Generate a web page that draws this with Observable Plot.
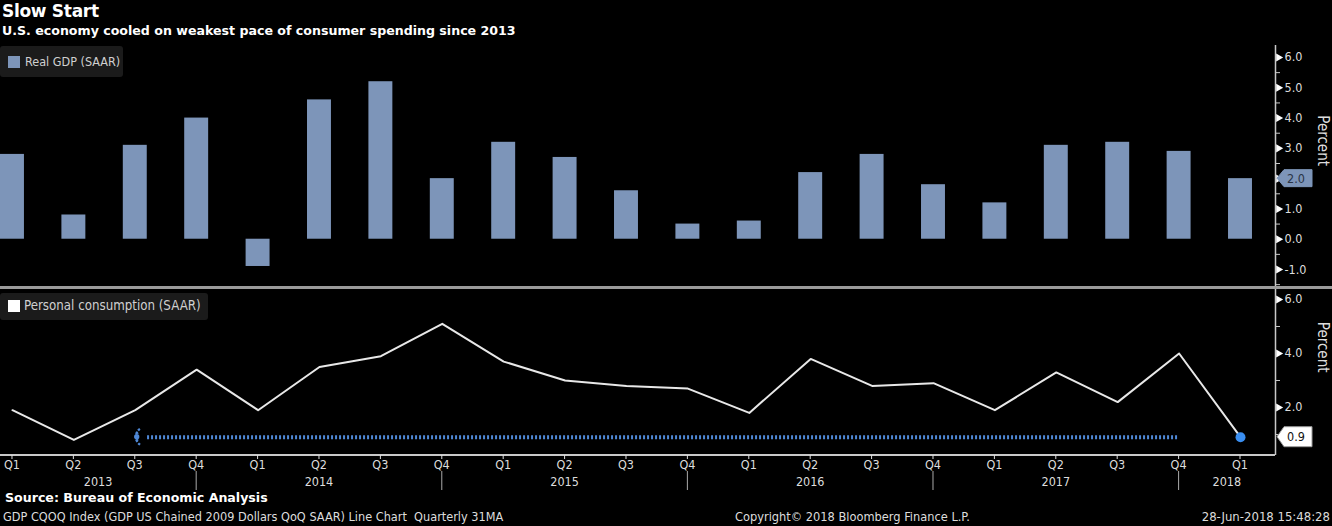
<!DOCTYPE html>
<html><head><meta charset="utf-8">
<script src="https://cdn.jsdelivr.net/npm/d3@7"></script>
<script src="https://cdn.jsdelivr.net/npm/@observablehq/plot@0.6"></script>
<style>
html,body{margin:0;padding:0;background:#000;}
body{width:1332px;height:526px;overflow:hidden;position:relative;font-family:"DejaVu Sans Condensed","Liberation Sans Narrow","DejaVu Sans",sans-serif;color:#ddd}
.abs{position:absolute;white-space:nowrap}
.legend{background:#1b1b1b;border-radius:3px;font-size:12.5px;color:#d0d0d0;z-index:5}
.sw{position:absolute;width:12px;height:12px}
svg{display:block}
</style></head><body>
<div class="abs" style="left:2px;top:1px;font:bold 17px 'DejaVu Sans',sans-serif;color:#fff;letter-spacing:-0.3px">Slow Start</div>
<div class="abs" style="left:2px;top:23px;font:bold 12.6px 'DejaVu Sans',sans-serif;color:#fff">U.S. economy cooled on weakest pace of consumer spending since 2013</div>
<div id="top" class="abs" style="left:0;top:45px"></div>
<div class="abs" style="left:0;top:286px;width:1332px;height:3px;background:#9a9a9a;z-index:3"></div>
<div id="bottom" class="abs" style="left:0;top:289px"></div>
<div class="abs legend" style="left:0;top:46px;width:123px;height:31px">
  <div class="sw" style="left:8px;top:10px;background:#7d95b9"></div>
  <div class="abs" style="left:25px;top:8px">Real GDP (SAAR)</div>
</div>
<div class="abs legend" style="left:0;top:293px;width:208px;height:27px">
  <div class="sw" style="left:8px;top:7px;background:#fff"></div>
  <div class="abs" style="left:24px;top:5px;font-size:13.2px">Personal consumption (SAAR)</div>
</div>
<div class="abs" style="left:5px;top:490px;font:bold 12.6px 'DejaVu Sans',sans-serif;color:#fff">Source: Bureau of Economic Analysis</div>
<div class="abs" style="left:3px;top:509px;font-size:12.6px;color:#ddd">GDP CQOQ Index (GDP US Chained 2009 Dollars QoQ SAAR) Line Chart&nbsp; Quarterly 31MA</div>
<div class="abs" style="left:735px;top:509px;font-size:12.7px;color:#ddd">Copyright© 2018 Bloomberg Finance L.P.</div>
<div class="abs" style="right:2px;top:509px;font-size:13px;color:#ddd">28-Jun-2018 15:48:28</div>
<script>
// ---- data ----
const quarters = ["Q1","Q2","Q3","Q4","Q1","Q2","Q3","Q4","Q1","Q2","Q3","Q4","Q1","Q2","Q3","Q4","Q1","Q2","Q3","Q4","Q1"];
const years = ["2013","2014","2015","2016","2017","2018"];
const gdp = [2.8,0.8,3.1,4.0,-0.9,4.6,5.2,2.0,3.2,2.7,1.6,0.5,0.6,2.2,2.8,1.8,1.2,3.1,3.2,2.9,2.0];
const consumption = [1.9,0.8,1.9,3.4,1.9,3.5,3.9,5.1,3.7,3.0,2.8,2.7,1.8,3.8,2.8,2.9,1.9,3.3,2.2,4.0,0.9];
const topTicks = [-1,0,1,2,3,4,5,6];
const topMinor = [-1.5,-0.5,0.5,1.5,2.5,3.5,4.5,5.5];
const bottomTicks = [2,4,6];
const bottomMinor = [1,3,5];
const weakestSpan = [2, 19]; // quarter indices: Q3 2013 .. Q4 2017

const BAR = "#7d95b9", BLUE = "#4f88d6", DOT = "#3a8ef0", AX = "#c8c8c8";
const N = quarters.length;
const rows = d3.range(N).map(i => ({i, q: quarters[i], gdp: gdp[i], pce: consumption[i]}));
const xDomain = [-0.195, 20.57];
const FONT = '"DejaVu Sans Condensed","Liberation Sans Narrow","DejaVu Sans",sans-serif';
const xmax = () => xDomain[1];

function callout(value, fill, textFill, stroke, h) {
  return (index, {x, y}) => {
    const g = d3.create("svg:g");
    const X = x(xDomain[1]) + 2, Y = y(value), w = 35, tip = 7;
    g.append("path")
      .attr("d", `M${X},${Y} L${X+tip},${Y-h} L${X+w},${Y-h} L${X+w},${Y+h} L${X+tip},${Y+h} Z`)
      .attr("fill", fill).attr("stroke", stroke);
    g.append("text").attr("x", X + tip + 3).attr("y", Y).attr("dy", "0.36em")
      .attr("text-anchor", "start")
      .attr("fill", textFill).attr("font-size", 12.5).attr("font-family", FONT)
      .text(value.toFixed(1));
    return g.node();
  };
}

function rightAxis(ticks, minor, hide) {
  const shown = ticks.filter(t => Math.abs(t - hide) > 0.3);
  return [
    Plot.ruleX([xDomain[1]], {stroke: AX, strokeWidth: 1.5}),
    Plot.axisY(minor, {anchor: "right", label: null, tickSize: 4, tickFormat: () => "", stroke: AX}),
    Plot.dot(ticks, {x: xmax, y: d => d, symbol: "triangle", rotate: 90, r: 3, fill: "#fff", dx: 3}),
    Plot.text(shown, {x: xmax, y: d => d, text: d => d.toFixed(1), textAnchor: "start", dx: 9, fill: "#ddd", fontSize: 12.5}),
    Plot.text(["Percent"], {frameAnchor: "right", dx: 47, rotate: 90, fontSize: 15, fill: "#ddd"})
  ];
}

const topPlot = Plot.plot({
  width: 1332, height: 241, marginLeft: 0, marginRight: 57, marginTop: 0, marginBottom: 0,
  style: {background: "transparent", color: "#ddd", fontFamily: FONT, fontSize: "12.5px", overflow: "visible"},
  x: {domain: xDomain, axis: null},
  y: {domain: [-1.561, 6.396], axis: null},
  marks: [
    Plot.rectY(rows, {x1: d => d.i - 0.195, x2: d => d.i + 0.195, y1: 0, y2: "gdp", fill: BAR}),
    ...rightAxis(topTicks, topMinor, gdp[N-1]),
    callout(gdp[N-1], BAR, "#2a3445", BAR, 8.5)
  ]
});
document.getElementById("top").append(topPlot);

const last = consumption[N-1];

function arrowHead(index, {x, y}) {
  const g = d3.create("svg:g").attr("fill", "none").attr("stroke", BLUE).attr("stroke-width", 2.2);
  const X = x(weakestSpan[0]), Y = y(last);
  g.append("circle").attr("cx", X + 2).attr("cy", Y).attr("r", 2.6).attr("fill", BLUE).attr("stroke", "none");
  [[5, 1.0], [9.5, 1.0]].forEach(([r, a]) => {
    const cx = X + 1 + r;
    const p = d3.path();
    p.arc(cx, Y, r, Math.PI - a, Math.PI + a);
    g.append("path").attr("d", p.toString()).attr("stroke-dasharray", "2.5,1.5");
  });
  return g.node();
}

function xAxis(index, {x}, values, dims) {
  const g = d3.create("svg:g").attr("font-family", FONT).attr("font-size", 12.5).attr("fill", "#ddd");
  const yb = dims.height - dims.marginBottom;
  g.append("line").attr("x1", 0).attr("x2", x(xDomain[1])).attr("y1", yb).attr("y2", yb)
    .attr("stroke", AX).attr("stroke-width", 2);
  const seps = [];
  quarters.forEach((q, i) => {
    g.append("line").attr("x1", x(i)).attr("x2", x(i)).attr("y1", yb).attr("y2", yb + 4).attr("stroke", "#ddd");
    g.append("text").attr("x", x(i)).attr("y", yb + 10).attr("dy", "0.35em").attr("text-anchor", "middle").text(q);
    if (q === "Q4") seps.push(i);
  });
  seps.forEach(i => {
    g.append("line").attr("x1", x(i)).attr("x2", x(i)).attr("y1", yb + 16).attr("y2", yb + 35).attr("stroke", "#aaa");
  });
  const bounds = [xDomain[0], ...seps, xDomain[1]];
  years.forEach((yr, k) => {
    g.append("text").attr("x", x((bounds[k] + bounds[k+1]) / 2)).attr("y", yb + 27).attr("dy", "0.35em")
      .attr("text-anchor", "middle").text(yr);
  });
  return g.node();
}

const bottomPlot = Plot.plot({
  width: 1332, height: 210, marginLeft: 0, marginRight: 57, marginTop: 0, marginBottom: 44,
  style: {background: "transparent", color: "#ddd", fontFamily: FONT, fontSize: "12.5px", overflow: "visible"},
  x: {domain: xDomain, axis: null},
  y: {domain: [0.222, 6.37], axis: null},
  marks: [
    Plot.ruleY([last], {x1: weakestSpan[0] + 0.2, x2: weakestSpan[1], stroke: BLUE, strokeWidth: 4, strokeDasharray: "2,2"}),
    arrowHead,
    Plot.line(rows, {x: "i", y: "pce", stroke: "#e8e8e8", strokeWidth: 2}),
    Plot.dot([rows[N-1]], {x: "i", y: "pce", r: 5, fill: DOT}),
    ...rightAxis(bottomTicks, bottomMinor, last),
    xAxis,
    callout(last, "#fff", "#111", "#999", 10)
  ]
});
document.getElementById("bottom").append(bottomPlot);
</script>
</body></html>
